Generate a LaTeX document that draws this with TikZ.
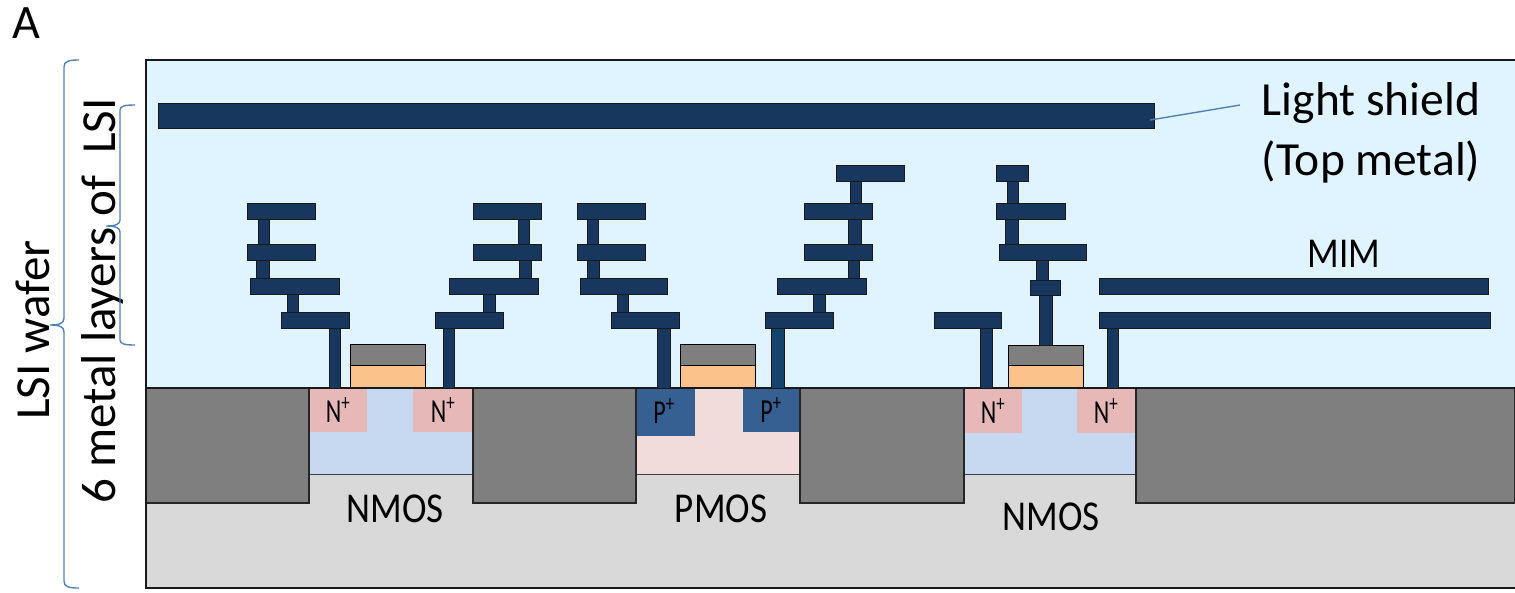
\documentclass[tikz,border=0pt]{standalone}
\usepackage{fontspec}
\setmainfont{Carlito}
\definecolor{skyc}{HTML}{DFF4FE}
\definecolor{subc}{HTML}{D9D9D9}
\definecolor{stic}{HTML}{7F7F7F}
\definecolor{metalc}{HTML}{17375E}
\definecolor{viac}{HTML}{14436E}
\definecolor{nwellc}{HTML}{C6D9F1}
\definecolor{pwellc}{HTML}{F2DCDB}
\definecolor{nplusc}{HTML}{E6B9B8}
\definecolor{pplusc}{HTML}{376092}
\definecolor{polyc}{HTML}{FCC28C}
\definecolor{bracec}{HTML}{4F81BD}
\tikzset{
  frame/.style ={draw=black!90,line width=1.2pt},
  sti/.style   ={fill=stic,draw=black!85,line width=1.1pt},
  well/.style  ={draw=black!75,line width=1pt},
  gatep/.style ={draw=black,line width=1pt},
  metal/.style ={fill=metalc,draw=black!90,line width=0.9pt},
  bigl/.style  ={inner sep=0pt,align=center,font=\fontsize{47.5}{60}\selectfont},
  sidel/.style ={inner sep=0pt,font=\fontsize{49}{55}\selectfont},
  tagl/.style  ={inner sep=0pt,font=\fontsize{48}{55}\selectfont},
  midl/.style  ={inner sep=0pt,font=\fontsize{37}{40}\selectfont},
  dopl/.style  ={inner sep=0pt,font=\fontsize{24}{28}\selectfont},
  brc/.style   ={draw=bracec,line width=1.4pt},
  leader/.style={draw=bracec,line width=1.4pt},
}
\newcommand{\mbar}[4]{\draw[metal] (#1,#2) rectangle (#3,#4);}
\newcommand{\tall}[1]{\scalebox{1}[1.15]{#1}}
\newcommand{\taller}[1]{\scalebox{1}[1.4]{#1}}
\begin{document}
\begin{tikzpicture}[x=1pt,y=-1pt]
\useasboundingbox (0,0) rectangle (1515,592);

% ---- body: oxide, substrate ------------------------------------------
\fill[skyc] (146,60) rectangle (1515,388);
\fill[subc] (146,388) rectangle (1515,588);

% ---- wells ------------------------------------------------------------
\draw[well,fill=nwellc] (309,388) rectangle (473,474);
\draw[well,fill=pwellc] (636,388) rectangle (800,474);
\draw[well,fill=nwellc] (964,388) rectangle (1136,474);

% ---- source / drain ---------------------------------------------------
\fill[nplusc] (310,389) rectangle (367,432);
\fill[nplusc] (413,389) rectangle (472,432);
\fill[pplusc] (637,389) rectangle (695,436);
\fill[pplusc] (743,389) rectangle (800,432);
\fill[nplusc] (965,389) rectangle (1022,433);
\fill[nplusc] (1077,389) rectangle (1136,433);

% ---- isolation ---------------------------------------------------------
\draw[sti] (146,388) rectangle (309,503);
\draw[sti] (473,388) rectangle (636,503);
\draw[sti] (800,388) rectangle (964,503);
\draw[sti] (1136,388) rectangle (1515,503);

% ---- gates --------------------------------------------------------------
\draw[gatep,fill=stic] (350,344) rectangle (425,365);
\draw[gatep,fill=polyc] (350,365) rectangle (425,388);
\draw[gatep,fill=stic] (680,344) rectangle (755,365);
\draw[gatep,fill=polyc] (680,365) rectangle (755,388);
\draw[gatep,fill=stic] (1008,345) rectangle (1083,365);
\draw[gatep,fill=polyc] (1008,365) rectangle (1083,388);

% ---- frame, surface ------------------------------------------------------
\draw[frame] (146,388) -- (1515,388);
\draw[frame] (1515,60) -- (146,60) -- (146,588) -- (1515,588);

% ---- stack 1 -------------------------------------------------------------
\mbar{329}{328}{340}{388}
\mbar{287}{294}{298}{312}
\mbar{256}{260}{269}{278}
\mbar{258}{219}{269}{244}
\mbar{247}{203}{315}{219}
\mbar{247}{244}{315}{260}
\mbar{250}{278}{339}{294}
\mbar{281}{312}{349}{328}

% ---- stack 2 -------------------------------------------------------------
\mbar{443}{328}{454}{388}
\mbar{483}{294}{495}{312}
\mbar{519}{260}{531}{278}
\mbar{518}{219}{529}{244}
\mbar{473}{203}{541}{219}
\mbar{473}{244}{541}{260}
\mbar{449}{278}{538}{294}
\mbar{435}{312}{503}{328}

% ---- stack 3 -------------------------------------------------------------
\mbar{657}{328}{670}{388}
\mbar{617}{294}{628}{312}
\mbar{587}{260}{599}{278}
\mbar{587}{219}{598}{244}
\mbar{577}{203}{645}{219}
\mbar{577}{244}{645}{260}
\mbar{580}{278}{667}{294}
\mbar{611}{312}{679}{328}

% ---- stack 4 -------------------------------------------------------------
\draw[metal,fill=viac] (771,328) rectangle (784,388);
\mbar{813}{294}{825}{312}
\mbar{848}{260}{859}{278}
\mbar{848}{219}{861}{244}
\mbar{850}{181}{861}{203}
\mbar{836}{165}{904}{181}
\mbar{804}{203}{872}{219}
\mbar{804}{244}{872}{260}
\mbar{777}{278}{866}{294}
\mbar{765}{312}{833}{328}

% ---- stack 5, gate contact -------------------------------------------------
\mbar{1039}{294}{1052}{345}
\mbar{1036}{260}{1048}{280}
\mbar{1005}{219}{1018}{244}
\mbar{1007}{181}{1018}{203}
\mbar{996}{165}{1028}{181}
\mbar{996}{203}{1065}{219}
\mbar{999}{244}{1086}{260}
\mbar{1030}{280}{1060}{295}
\mbar{980}{328}{992}{388}
\mbar{934}{312}{1001}{328}

% ---- MIM, shield -----------------------------------------------------------
\mbar{1107}{328}{1118}{388}
\mbar{1099}{278}{1488}{294}
\mbar{1099}{312}{1490}{328}
\mbar{158}{103}{1154}{128}

\coordinate (shieldtip) at (1150,120);
\coordinate (shieldend) at (1240,105);
\draw[leader] (shieldtip) -- (shieldend);

% ---- labels -----------------------------------------------------------------
\node[tagl] (tagA) at (26,23) {A};
\node[bigl] (shieldlab) at (1371,133) {Light shield\\(Top metal)};
\node[midl] (miml) at (1344,254) {\tall{MIM}};
\node[midl] (nmos1) at (395,509) {\tall{NMOS}};
\node[midl] (pmos1) at (721,509) {\tall{PMOS}};
\node[midl] (nmos2) at (1051,517) {\tall{NMOS}};
\node[dopl] (n1) at (338,410) {\taller{N\textsuperscript{+}}};
\node[dopl] (n2) at (443,410) {\taller{N\textsuperscript{+}}};
\node[dopl] (p1) at (664,411) {\taller{P\textsuperscript{+}}};
\node[dopl] (p2) at (771,410) {\taller{P\textsuperscript{+}}};
\node[dopl] (n3) at (993,411) {\taller{N\textsuperscript{+}}};
\node[dopl] (n4) at (1106,411) {\taller{N\textsuperscript{+}}};
\node[sidel,rotate=90] (waferl) at (33,330) {LSI wafer};
\node[sidel,rotate=90] (layersl) at (102,301) {6 metal layers of\ \ LSI};

% ---- braces ------------------------------------------------------------------
\draw[brc] (79,60) .. controls (69,60) and (64,61) .. (64,67) -- (64,318)
  .. controls (64,323) and (60,325) .. (50,325)
  .. controls (60,325) and (64,327) .. (64,332) -- (64,581)
  .. controls (64,587) and (69,588) .. (79,588);
\draw[brc] (135,105) .. controls (125,105) and (120,106) .. (120,110) -- (120,220)
  .. controls (120,224) and (116,226) .. (106,226)
  .. controls (116,226) and (120,228) .. (120,232) -- (120,340)
  .. controls (120,344) and (125,345) .. (135,345);
\end{tikzpicture}
\end{document}
